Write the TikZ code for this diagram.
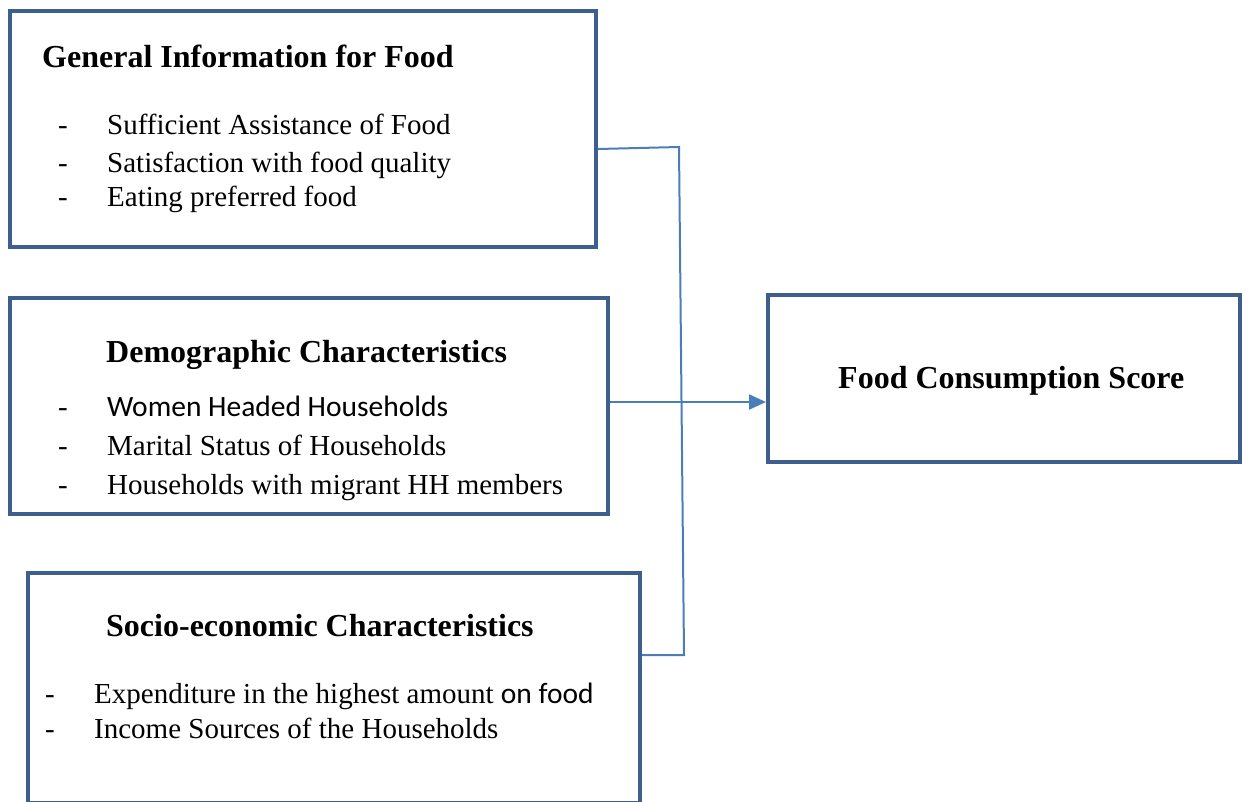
\documentclass[tikz,border=0pt]{standalone}
\usepackage{fontspec}
\setmainfont{Liberation Serif}
\newfontfamily\calfont{Carlito}
\usetikzlibrary{arrows.meta}
\definecolor{boxblue}{HTML}{3E5F8E}
\definecolor{linkblue}{HTML}{4A7EBB}
\tikzset{
  box/.style={draw=boxblue, line width=4pt, inner sep=0pt},
  title/.style={anchor=base west, inner sep=0pt, font=\fontsize{32}{36}\selectfont\bfseries},
  item/.style={anchor=base west, inner sep=0pt, font=\fontsize{29}{34}\selectfont},
  sansitem/.style={font=\calfont\fontsize{29.5}{34}\selectfont},
  link/.style={draw=linkblue, line width=2pt},
}
\begin{document}
\begin{tikzpicture}[x=1pt,y=-1pt]
\useasboundingbox (0,0) rectangle (1246,801);
% boxes
\node[box, minimum width=586pt, minimum height=236pt] (gen) at (303,129) {};
\node[box, minimum width=598pt, minimum height=216pt] (demo) at (309,406) {};
\node[box, minimum width=612pt, minimum height=230pt] (soc) at (334,688) {};
\node[box, minimum width=472pt, minimum height=167pt] (fcs) at (1004,378.5) {};
% general information
\node[title] (t1) at (42,67) {General Information for Food};
\node[item] (d11) at (58,134) {-};
\node[item] (i11) at (107,134) {Sufficient Assistance of Food};
\node[item] (d12) at (58,172) {-};
\node[item] (i12) at (107,172) {Satisfaction with food quality};
\node[item] (d13) at (58,206) {-};
\node[item] (i13) at (107,206) {Eating preferred food};
% demographic
\node[title] (t2) at (106,362) {Demographic Characteristics};
\node[item] (d21) at (58,416) {-};
\node[item, sansitem] (i21) at (107,416) {Women Headed Households};
\node[item] (d22) at (58,455) {-};
\node[item] (i22) at (107,455) {Marital Status of Households};
\node[item] (d23) at (58,494) {-};
\node[item] (i23) at (107,494) {Households with migrant HH members};
% socio-economic
\node[title] (t3) at (106,636) {Socio-economic Characteristics};
\node[item] (d31) at (45,703) {-};
\node[item] (i31) at (94,703) {Expenditure in the highest amount {\calfont\fontsize{29.5}{34}\selectfont on food}};
\node[item] (d32) at (45,738) {-};
\node[item] (i32) at (94,738) {Income Sources of the Households};
% outcome
\node[title] (t4) at (838,388) {Food Consumption Score};
% connectors
\coordinate (g1) at (0,149);
\coordinate (j1) at (679,147);
\coordinate (j2) at (684,655);
\coordinate (a1) at (0,402);
\draw[link] (gen.east |- g1) -- (j1) -- (j2) -- (soc.east |- j2);
\draw[link, -{Triangle[length=17pt,width=15pt]}] (demo.east |- a1) -- (fcs.west |- a1);
\end{tikzpicture}
\end{document}
